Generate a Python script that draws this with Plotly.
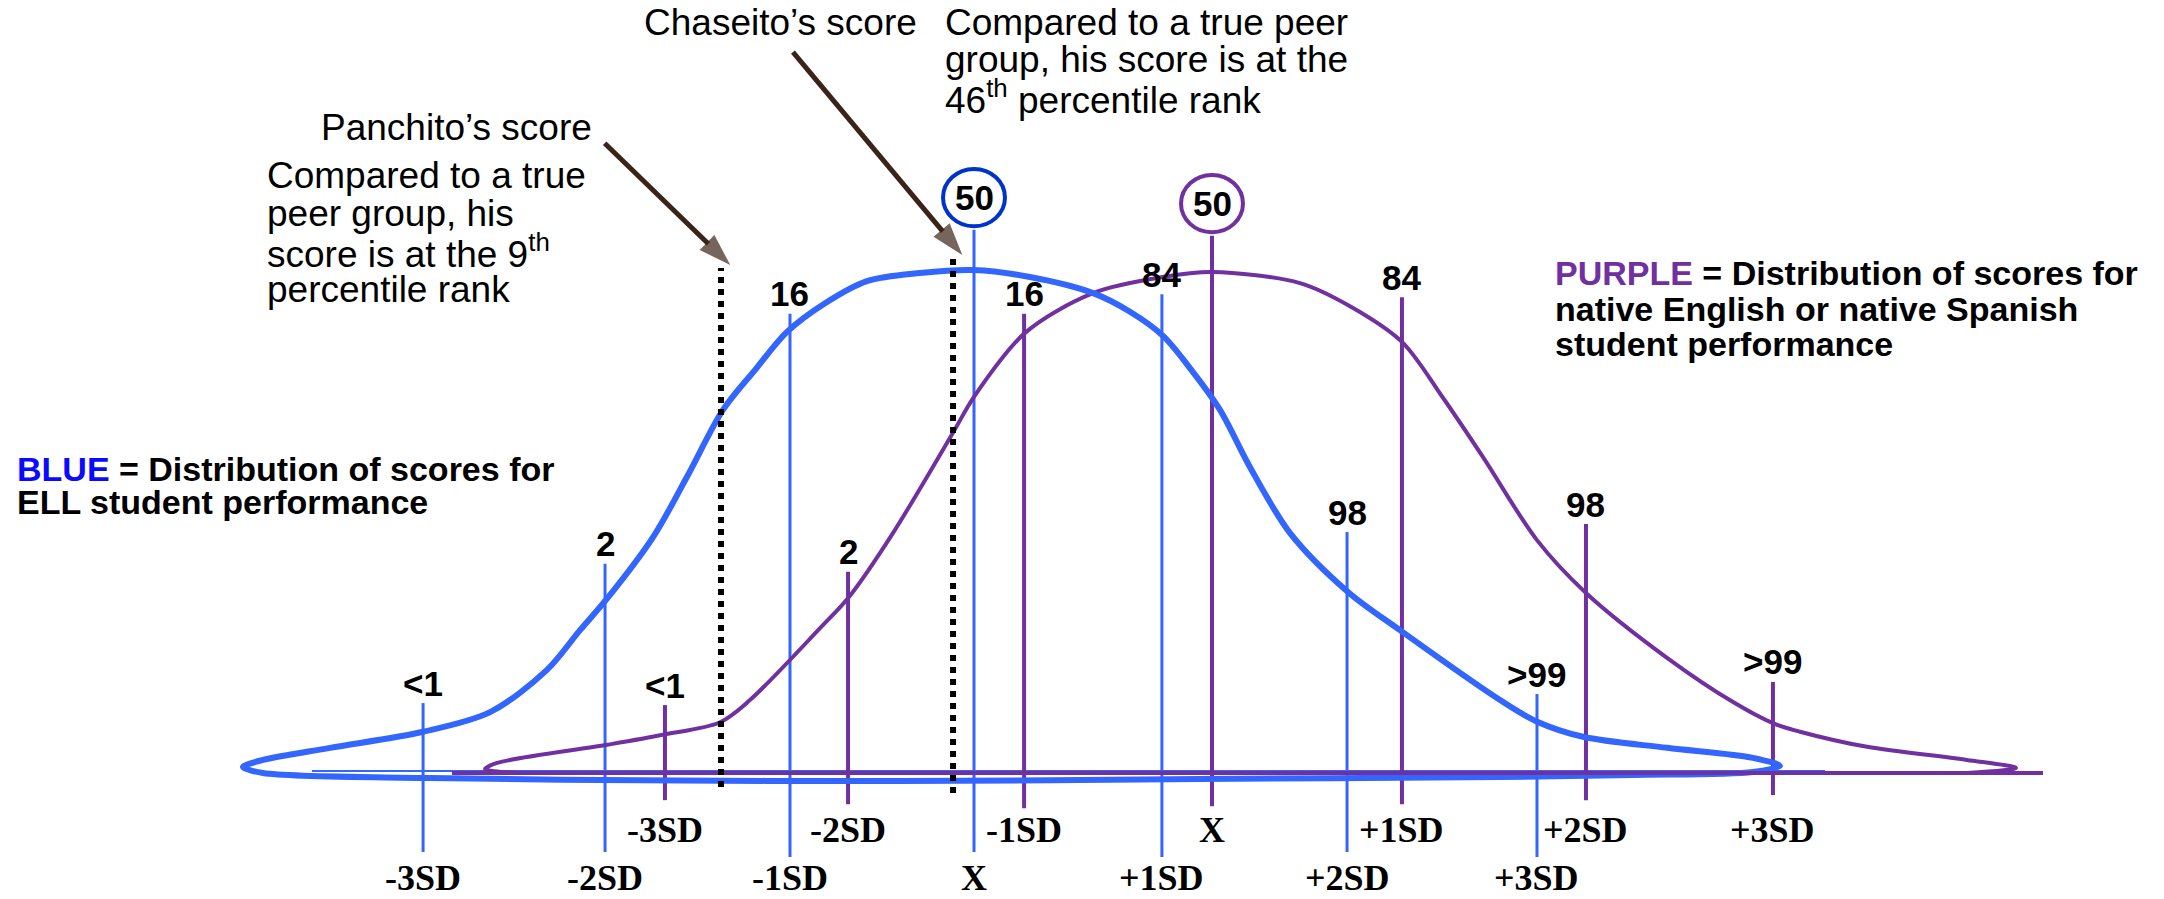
import plotly.graph_objects as go

# ---------------- data ----------------
# x in standard-deviation units of the ELL (blue) distribution, blue mean at 0
# y in relative frequency (blue peak = 100)
sd_labels = ["-3SD", "-2SD", "-1SD", "X", "+1SD", "+2SD", "+3SD"]
pct_labels = ["<1", "2", "16", "50", "84", "98", ">99"]

blue_marker_x = [-2.970, -1.989, -0.992, 0.0, 1.013, 2.011, 3.035]
blue_marker_top = [13.9, 41.6, 91.3, 108.0, 95.2, 47.9, 15.7]
blue_marker_bottom = [-15.7, -15.7, -16.7, -15.7, -16.7, -15.7, -16.7]

purple_marker_x = [-1.666, -0.679, 0.270, 1.283, 2.307, 3.299, 4.307]
purple_marker_top = [13.5, 40.0, 91.3, 106.8, 94.6, 49.5, 18.1]
purple_marker_bottom = [-5.4, -6.2, -7.0, -6.6, -6.2, -5.4, -4.4]

# hand-drawn bell outlines (closed loops: curve on top, return stroke along the base)
blue_curve_x = [-3.941, -3.833, -3.472, -2.970, -2.609, -2.302, -2.124, -1.984, -1.730,
                -1.547, -1.353, -1.181, -1.008, -0.803, -0.577, -0.291, 0.0, 0.302, 0.642,
                0.841, 1.019, 1.164, 1.326, 1.488, 1.704, 2.016, 2.296, 2.836, 3.030,
                3.283, 3.736, 4.199, 4.345, 4.199, 3.553, 2.836, 1.218, -0.399, -2.016,
                -2.933, -3.833, -3.941]
blue_curve_y = [1.2, 2.6, 5.0, 8.2, 12.1, 20.5, 28.4, 34.4, 46.9,
                58.9, 72.2, 80.1, 87.7, 93.4, 97.8, 99.4, 100.0, 98.6, 95.4,
                91.7, 86.9, 80.5, 72.2, 60.8, 47.7, 36.0, 28.4, 14.5, 10.3,
                7.2, 5.0, 3.0, 1.4, 0.2, -0.4, -0.8, -1.2, -1.6, -1.4,
                -1.0, 0.0, 1.2]

purple_curve_x = [-2.447, -2.636, -2.571, -1.978, -1.677, -1.369, -1.208, -0.830, -0.674,
                  -0.437, -0.111, 0.0, 0.275, 0.642, 1.019, 1.283, 1.757, 2.027, 2.307,
                  2.528, 2.744, 3.035, 3.299, 3.736, 4.092, 4.307, 4.453, 4.814,
                  5.353, 5.617, 5.353]
purple_curve_y = [0.0, 0.8, 2.0, 5.6, 7.6, 10.1, 14.5, 28.8, 35.0,
                  47.7, 67.8, 74.8, 87.5, 95.4, 98.6, 99.6, 97.4, 92.8, 85.7,
                  74.6, 62.8, 46.3, 35.8, 22.9, 14.1, 9.9, 8.2, 5.2,
                  2.6, 1.0, 0.0]

blue_axis_x = [-3.569, 4.588]
purple_axis_x = [-2.814, 5.763]

# student scores (dotted markers) and where their arrows start
student_names = ["Panchito", "Chaseito"]
student_x = [-1.364, -0.113]
student_top = [100.4, 102.4]
student_bottom = [-2.8, -4.0]
arrow_tail_x = [-1.991, -0.976]
arrow_tail_y = [125.2, 143.3]

# ---------------- styling ----------------
BLUE = "#3366ff"
BLUE_DARK = "#0033cc"
PURPLE = "#7030a0"
BROWN = "#3a2418"
SANS = "Liberation Sans, Arial, Helvetica, sans-serif"
SERIF = "Liberation Serif, Times New Roman, serif"

W, H = 2164, 899
X_RANGE = [-5.2507, 6.4151]
Y_RANGE = [-25.05, 153.68]


def seg(xs, bottoms, tops):
    sx, sy = [], []
    for x, b, t in zip(xs, bottoms, tops):
        sx += [x, x, None]
        sy += [b, t, None]
    return sx, sy


fig = go.Figure()

# thin blue base line
fig.add_trace(go.Scatter(x=blue_axis_x, y=[0.4, 0.4], mode="lines",
                         line=dict(color=BLUE, width=2), hoverinfo="skip"))

# SD marker lines
bx, by = seg(blue_marker_x, blue_marker_bottom, blue_marker_top)
fig.add_trace(go.Scatter(x=bx, y=by, mode="lines",
                         line=dict(color=BLUE, width=3), hoverinfo="skip"))
px_, py_ = seg(purple_marker_x, purple_marker_bottom, purple_marker_top)
fig.add_trace(go.Scatter(x=px_, y=py_, mode="lines",
                         line=dict(color=PURPLE, width=4), hoverinfo="skip"))

# distribution outlines
fig.add_trace(go.Scatter(x=purple_curve_x, y=purple_curve_y, mode="lines",
                         line=dict(color=PURPLE, width=4, shape="spline", smoothing=0.9),
                         hoverinfo="skip"))
fig.add_trace(go.Scatter(x=blue_curve_x, y=blue_curve_y, mode="lines",
                         line=dict(color=BLUE, width=6, shape="spline", smoothing=0.9),
                         hoverinfo="skip"))

# purple base line
fig.add_trace(go.Scatter(x=purple_axis_x, y=[0.0, 0.0], mode="lines",
                         line=dict(color=PURPLE, width=4), hoverinfo="skip"))

# student score markers
sx, sy = seg(student_x, student_bottom, student_top)
fig.add_trace(go.Scatter(x=sx, y=sy, mode="lines",
                         line=dict(color="black", width=6, dash="dot"), hoverinfo="skip"))

# arrows pointing at the student scores
for hx, hy, tx, ty in zip(student_x, student_top, arrow_tail_x, arrow_tail_y):
    fig.add_trace(go.Scatter(
        x=[tx, hx + 0.05], y=[ty, hy + 0.6], mode="lines+markers",
        line=dict(color=BROWN, width=5),
        marker=dict(symbol=["circle", "arrow"], size=[0, 34], color=BROWN,
                    angleref="previous", line=dict(width=0)),
        hoverinfo="skip"))

annotations = []
shapes = []

# percentile labels above each marker line (the mean gets a circled label)
for xs, tops, ring in [(blue_marker_x, blue_marker_top, BLUE_DARK),
                       (purple_marker_x, purple_marker_top, PURPLE)]:
    for x, t, lab in zip(xs, tops, pct_labels):
        if lab == "50":
            cy = t + 0.7 + 5.7
            shapes.append(dict(type="circle", xref="x", yref="y",
                               x0=x - 0.167, x1=x + 0.167, y0=cy - 5.7, y1=cy + 5.7,
                               line=dict(color=ring, width=4), fillcolor="white"))
            annotations.append(dict(x=x, y=cy, text="<b>50</b>", showarrow=False,
                                    xanchor="center", yanchor="middle",
                                    font=dict(family=SANS, size=35, color="black")))
        else:
            annotations.append(dict(x=x, y=t, text=f"<b>{lab}</b>", showarrow=False,
                                    xanchor="center", yanchor="middle", yshift=20,
                                    font=dict(family=SANS, size=35, color="black")))

# SD labels under the lines
for xs, row in [(blue_marker_x, -20.9), (purple_marker_x, -11.3)]:
    for x, lab in zip(xs, sd_labels):
        annotations.append(dict(x=x, y=row, text=f"<b>{lab}</b>", showarrow=False,
                                xanchor="center", yanchor="middle",
                                font=dict(family=SERIF, size=36, color="black")))


def txt(px, py, text, size, anchor="left"):
    # py is the baseline in pixels from the top; centre the line box on it
    return dict(xref="paper", yref="paper", x=px / W, y=1 - (py - 0.347 * size) / H,
                text=text, showarrow=False, xanchor=anchor, yanchor="middle",
                font=dict(family=SANS, size=size, color="black"))


annotations += [
    txt(642, 35, "Chaseito’s score", 37),
    txt(943, 35, "Compared to a true peer", 37),
    txt(943, 72, "group, his score is at the", 37),
    txt(943, 110, "46<sup>th</sup> percentile rank", 37),
    txt(319, 140, "Panchito’s score", 37),
    txt(265, 188, "Compared to a true", 37),
    txt(265, 226, "peer group, his", 37),
    txt(265, 264, "score is at the 9<sup>th</sup>", 37),
    txt(265, 302, "percentile rank", 37),
    txt(1553, 285, f"<b><span style='color:{PURPLE}'>PURPLE</span> = Distribution of scores for</b>", 34),
    txt(1553, 321, "<b>native English or native Spanish</b>", 34),
    txt(1553, 356, "<b>student performance</b>", 34),
    txt(15, 481, "<b><span style='color:#0a0aff'>BLUE</span> = Distribution of scores for</b>", 34),
    txt(15, 514, "<b>ELL student performance</b>", 34),
]

fig.update_layout(
    width=W, height=H,
    margin=dict(l=0, r=0, t=0, b=0),
    paper_bgcolor="white", plot_bgcolor="white",
    showlegend=False,
    xaxis=dict(range=X_RANGE, visible=False, fixedrange=True),
    yaxis=dict(range=Y_RANGE, visible=False, fixedrange=True),
    annotations=annotations,
    shapes=shapes,
)

fig.write_html("out.html")
